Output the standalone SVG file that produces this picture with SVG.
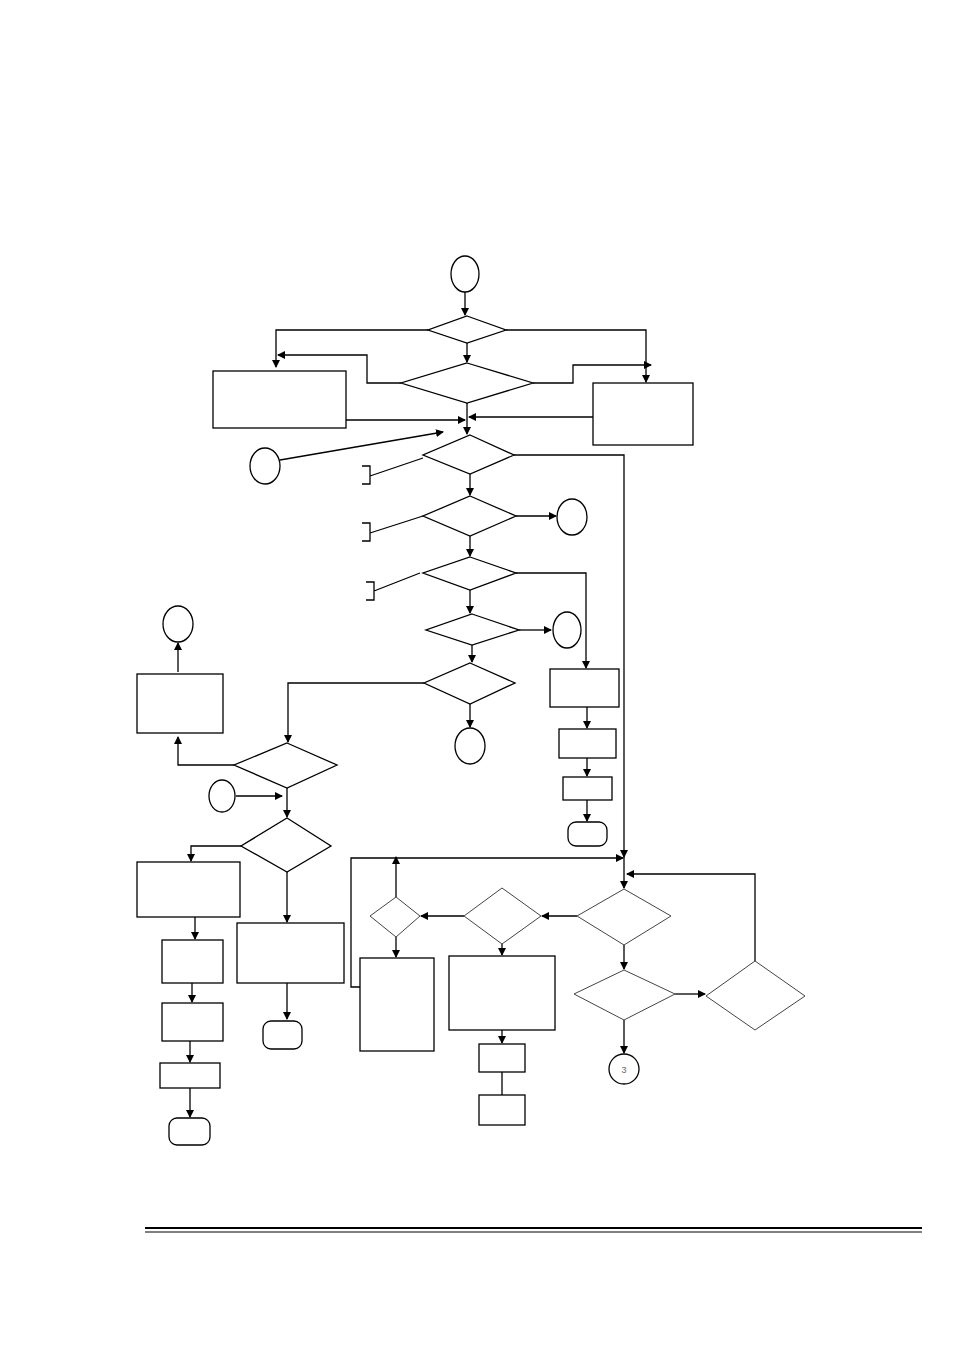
<svg xmlns="http://www.w3.org/2000/svg" width="954" height="1350" viewBox="0 0 954 1350">
<style>
.s{fill:#fff;stroke:#000;stroke-width:1.3}
.g{fill:#fff;stroke:#444;stroke-width:1}
.c{fill:none;stroke:#000;stroke-width:1.3}
.a{marker-end:url(#ar)}
</style>
<defs><marker id="ar" markerWidth="8" markerHeight="8" refX="7" refY="4" orient="auto" markerUnits="userSpaceOnUse"><path d="M0,0L8,4L0,8z" fill="#000"/></marker></defs>
<rect width="954" height="1350" fill="#fff"/>
<g id="connectors">
<path class="c a" d="M465,292V315"/>
<path class="c a" d="M428,330H276V367"/>
<path class="c a" d="M506,330H646V382"/>
<path class="c a" d="M467,343V362"/>
<path class="c a" d="M401,383H367V355H278"/>
<path class="c a" d="M533,383H573V365H651"/>
<path class="c a" d="M346,420H465"/>
<path class="c a" d="M593,417H469"/>
<path class="c a" d="M467,403V434"/>
<path class="c a" d="M280,460L443,432"/>
<path class="c" d="M362,466H370V484H362M370,476L423,458"/>
<path class="c" d="M362,523H370V541H362M370,533L423,516"/>
<path class="c" d="M366,582H374V600H366M374,591L420,573"/>
<path class="c a" d="M514,455H624V857"/>
<path class="c a" d="M470,474V495"/>
<path class="c a" d="M516,516H556"/>
<path class="c a" d="M470,536V556"/>
<path class="c a" d="M516,573H586V668"/>
<path class="c a" d="M470,590V613"/>
<path class="c a" d="M519,630H551"/>
<path class="c a" d="M472,645V662"/>
<path class="c a" d="M424,683H288V742"/>
<path class="c a" d="M470,704V727"/>
<path class="c a" d="M587,707V728"/>
<path class="c a" d="M587,758V776"/>
<path class="c a" d="M587,800V821"/>
<path class="c a" d="M178,672V643"/>
<path class="c a" d="M234,765H178V737"/>
<path class="c a" d="M236,796H282"/>
<path class="c a" d="M287,788V817"/>
<path class="c a" d="M241,846H191V861"/>
<path class="c a" d="M195,917V939"/>
<path class="c a" d="M192,983V1002"/>
<path class="c a" d="M190,1041V1062"/>
<path class="c a" d="M190,1088V1117"/>
<path class="c a" d="M287,872V922"/>
<path class="c a" d="M287,983V1019"/>
<path class="c a" d="M360,987H351V858H623"/>
<path class="c a" d="M624,857V888"/>
<path class="c a" d="M396,897V857"/>
<path class="c a" d="M396,937V957"/>
<path class="c a" d="M464,916H421"/>
<path class="c a" d="M502,944V955"/>
<path class="c a" d="M502,1030V1043"/>
<path class="c" d="M502,1072V1095"/>
<path class="c a" d="M577,916H542"/>
<path class="c a" d="M624,945V969"/>
<path class="c a" d="M675,994H705"/>
<path class="c a" d="M755,961V874H627"/>
<path class="c a" d="M624,1020V1053"/>
</g>
<g id="start"><ellipse class="s" cx="465" cy="274" rx="14" ry="18"/></g>
<g id="d1"><polygon class="s" points="467,316 506,330 467,343 428,330"/></g>
<g id="d2"><polygon class="s" points="467,363 533,383 467,403 401,383"/></g>
<g id="boxL"><rect class="s" x="213" y="371" width="133" height="57"/></g>
<g id="boxR"><rect class="s" x="593" y="383" width="100" height="62"/></g>
<g id="c1"><ellipse class="s" cx="265" cy="466" rx="15" ry="18"/></g>
<g id="d3"><polygon class="s" points="470,435 514,455 470,474 423,455"/></g>
<g id="d4"><polygon class="s" points="470,496 516,516 470,536 423,516"/></g>
<g id="c2"><ellipse class="s" cx="572" cy="517" rx="15" ry="18"/></g>
<g id="d5"><polygon class="s" points="470,557 516,573 470,590 423,573"/></g>
<g id="d6"><polygon class="s" points="472,614 519,630 472,645 426,630"/></g>
<g id="c3"><ellipse class="s" cx="567" cy="630" rx="14" ry="18"/></g>
<g id="d7"><polygon class="s" points="470,663 515,683 470,704 424,683"/></g>
<g id="c4"><ellipse class="s" cx="470" cy="746" rx="15" ry="18"/></g>
<g id="r1"><rect class="s" x="550" y="669" width="69" height="38"/></g>
<g id="r2"><rect class="s" x="559" y="729" width="57" height="29"/></g>
<g id="r3"><rect class="s" x="563" y="777" width="49" height="23"/></g>
<g id="t1"><rect class="s" x="568" y="822" width="39" height="24" rx="8"/></g>
<g id="c5"><ellipse class="s" cx="178" cy="624" rx="15" ry="18"/></g>
<g id="l1"><rect class="s" x="137" y="674" width="86" height="59"/></g>
<g id="d8"><polygon class="s" points="287,743 337,765 287,788 234,765"/></g>
<g id="c6"><ellipse class="s" cx="222" cy="796" rx="13" ry="16"/></g>
<g id="d9"><polygon class="s" points="287,818 331,846 287,872 241,846"/></g>
<g id="l2"><rect class="s" x="137" y="862" width="103" height="55"/></g>
<g id="l3"><rect class="s" x="162" y="940" width="61" height="43"/></g>
<g id="l4"><rect class="s" x="162" y="1003" width="61" height="38"/></g>
<g id="l5"><rect class="s" x="160" y="1063" width="60" height="25"/></g>
<g id="t2"><rect class="s" x="169" y="1118" width="41" height="27" rx="8"/></g>
<g id="m1"><rect class="s" x="237" y="923" width="107" height="60"/></g>
<g id="t3"><rect class="s" x="263" y="1021" width="39" height="28" rx="8"/></g>
<g id="d10"><polygon class="g" points="396,897 420,916 396,937 370,916"/></g>
<g id="bA"><rect class="s" x="360" y="958" width="74" height="93"/></g>
<g id="d11"><polygon class="g" points="502,888 541,916 502,944 464,916"/></g>
<g id="bB"><rect class="s" x="449" y="956" width="106" height="74"/></g>
<g id="bC"><rect class="s" x="479" y="1044" width="46" height="28"/></g>
<g id="bD"><rect class="s" x="479" y="1095" width="46" height="30"/></g>
<g id="d12"><polygon class="g" points="624,889 671,916 624,945 577,916"/></g>
<g id="d13"><polygon class="g" points="624,970 675,994 624,1020 574,994"/></g>
<g id="d14"><polygon class="g" points="755,961 805,996 755,1030 706,996"/></g>
<g id="c7"><circle class="s" cx="624" cy="1069" r="15"/><text x="624" y="1073" font-family="Liberation Sans, sans-serif" font-size="9" fill="#666" text-anchor="middle">3</text></g>
<g id="footer"><path d="M145,1228H922" stroke="#000" stroke-width="2"/><path d="M145,1232H922" stroke="#000" stroke-width="1"/></g>
</svg>
